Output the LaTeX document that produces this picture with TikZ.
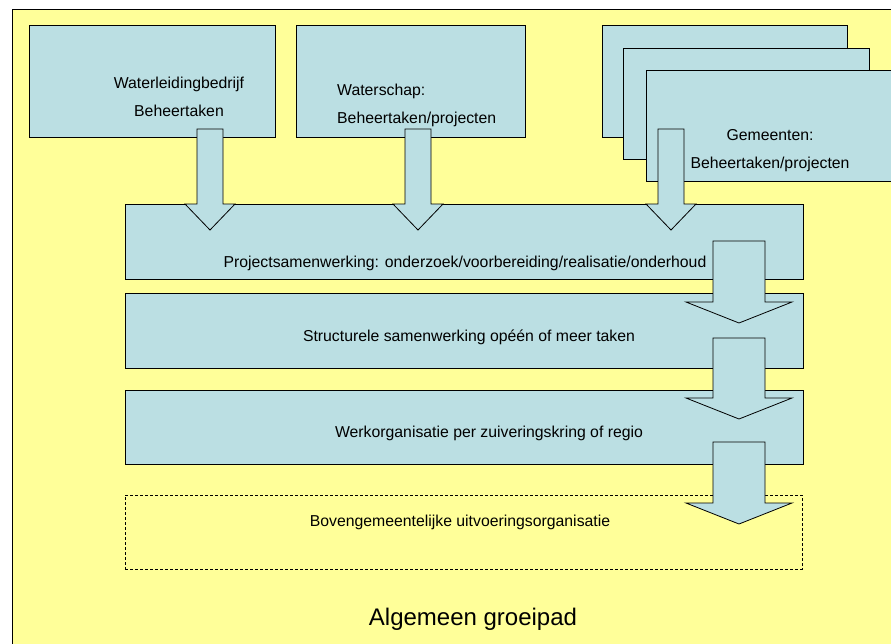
\documentclass[tikz,border=0pt]{standalone}
\usepackage{fontspec}
\setmainfont{Liberation Sans}
\usepackage{tikz}
\usepackage{xcolor}
\usetikzlibrary{positioning}

\definecolor{geel}{HTML}{FFFF99}
\definecolor{lichtblauw}{HTML}{BBDFE3}

\tikzset{
    blok/.style={draw=black, line width=0.8pt, fill=lichtblauw, rectangle, inner sep=0pt},
    pijl/.style={draw=black, line width=0.8pt, fill=lichtblauw, line join=miter},
    tekst/.style={inner sep=0pt, anchor=base, align=center, font=\fontsize{15.8}{27.5}\selectfont}
}

% x, top, tip, half shaft, half head, head length
\newcommand{\blokpijl}[6]{%
    \draw[pijl] (#1-#4,#2) -- (#1+#4,#2) -- (#1+#4,#3-#6) -- (#1+#5,#3-#6)
        -- (#1,#3) -- (#1-#5,#3-#6) -- (#1-#4,#3-#6) -- cycle;
}

\begin{document}
\begin{tikzpicture}[x=1pt, y=-1pt]
    \useasboundingbox (0,0) rectangle (891,643);
    \clip (0,0) rectangle (891,643);
    \fill[white] (0,0) rectangle (891,643);
    \draw[fill=geel, line width=0.8pt] (12,9) rectangle (910,670);

    % bovenste rij
    \node[blok, minimum width=246pt, minimum height=112pt] (wlb) at (152,81) {};
    \node[blok, minimum width=229pt, minimum height=112pt] (ws) at (410.5,81) {};
    \node[blok, minimum width=245pt, minimum height=112pt] (gem1) at (724.5,81) {};
    \node[blok, minimum width=246pt, minimum height=111pt] (gem2) at (746,103.5) {};
    \node[blok, minimum width=248pt, minimum height=111pt] (gem3) at (770,125.5) {};

    \node[tekst] (wlbtekst) at (179,116) {Waterleidingbedrijf\\Beheertaken};
    \node[tekst, align=left, anchor=base west] (wstekst) at (337,123) {Waterschap:\\Beheertaken/projecten};
    \node[tekst] (gemtekst) at (770,168) {Gemeenten:\\Beheertaken/projecten};

    % groeipad
    \node[blok, minimum width=678pt, minimum height=75pt] (proj) at (464,241.5) {};
    \node[blok, minimum width=678pt, minimum height=75pt] (struct) at (464,330.5) {};
    \node[blok, minimum width=678pt, minimum height=74pt] (werk) at (464,427) {};
    \node[draw=black, line width=1pt, dash pattern=on 3pt off 2pt, rectangle,
        minimum width=677pt, minimum height=74pt] (boven) at (463.5,532) {};

    \node[tekst] (projtekst) at (465,267) {Projectsamenwerking: onderzoek/voorbereiding/realisatie/onderhoud};
    \node[tekst] (structtekst) at (469,341) {Structurele samenwerking opéén of meer taken};
    \node[tekst] (werktekst) at (489,437) {Werkorganisatie per zuiveringskring of regio};
    \node[tekst] (boventekst) at (460,526) {Bovengemeentelijke uitvoeringsorganisatie};

    \node[tekst, font=\fontsize{24}{28}\selectfont] (titel) at (473,625) {Algemeen groeipad};

    % pijlen
    \blokpijl{210}{129}{230}{13}{25}{26}
    \blokpijl{418}{129}{230}{13}{25}{26}
    \blokpijl{671}{129}{230}{13}{25}{26}
    \blokpijl{739}{241}{323}{26}{53}{21}
    \blokpijl{739}{338}{419}{26}{53}{21}
    \blokpijl{739}{442}{524}{26}{53}{21}
\end{tikzpicture}
\end{document}
